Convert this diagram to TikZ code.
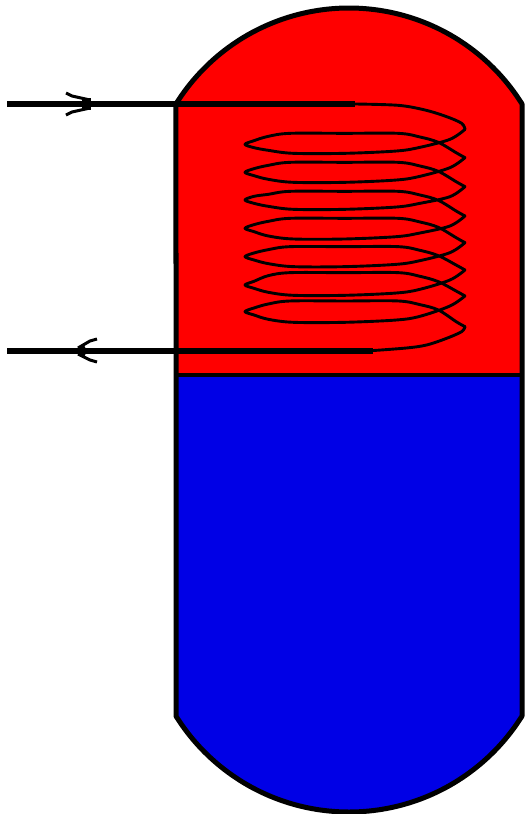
\documentclass[tikz,border=0pt]{standalone}
\definecolor{tankred}{RGB}{255,0,0}
\definecolor{tankblue}{RGB}{0,0,230}
\tikzset{
  shell/.style={draw=black,line width=5pt,line join=round},
  pipe/.style={draw=black,line width=5.5pt},
  coil/.style={draw=black,line width=2.9pt,line join=round,line cap=round},
  barb/.style={draw=black,line width=3pt,line join=round},
  zc/.style={shift={(230,90)},x=0.3333pt,y=-0.3333pt}
}
\begin{document}
\begin{tikzpicture}[x=1pt,y=-1pt]
\useasboundingbox (0,0) rectangle (525,814);
\fill[white] (0,0) rectangle (525,814);
% tank fill
\fill[tankred] plot[smooth,domain=-58:58,samples=41] ({349+204*sin(\x)},{212-204*cos(\x)}) -- (522,375) -- (176,375) -- cycle;
\fill[tankblue] (176,375) -- (522,375) -- (522,715) -- plot[smooth,domain=58:-58,samples=41] ({349+204*sin(\x)},{608+204*cos(\x)}) -- cycle;
% shell outline
\path[shell] plot[smooth,domain=-58:58,samples=41] ({349+204*sin(\x)},{212-204*cos(\x)}) -- (522,715) -- plot[smooth,domain=58:-58,samples=41] ({349+204*sin(\x)},{608+204*cos(\x)}) -- cycle;
\coordinate (divL) at (176,375);
\coordinate (divR) at (522,375);
\draw[draw=black,line width=4pt] (divL) -- (divR);
% coil: t = tip, T = top, B = bottom, b = bulge before, n = next bulge (zoom units)
\foreach \t/\T/\B/\b/\n in {163/130/190/118/203, 247/217/277/203/290, 330/304/358/290/378, 415/385/447/378/458, 500/470/530/458/540, 585/548/616/540/618, 665/633/697/618/710}{
  \draw[coil,zc] plot[smooth,tension=0.55] coordinates {
    (705,\b) (660,{\b+30}) (570,{\B-18}) (500,{\B-7}) (345,\B) (190,\B) (115,{\B-9}) (72,{\t+10}) (45,\t) (72,{\t-11}) (115,{\T+9}) (180,\T) (345,\T) (505,\T) (570,{\T+11}) (625,{\T+27}) (680,{\n-14}) (705,\n)};
}
% coil ends
\draw[coil,zc] plot[smooth,tension=0.55] coordinates {(375,42) (505,46) (585,60) (650,80) (695,100) (705,118)};
\draw[coil,zc] plot[smooth,tension=0.55] coordinates {(705,710) (695,725) (650,745) (590,765) (530,774) (425,782)};
% pipes
\coordinate (inA) at (7,104);
\coordinate (inB) at (355,104);
\coordinate (outA) at (373,351);
\coordinate (outB) at (7,351);
\path[pipe] (inA) -- (inB);
\path[pipe] (outA) -- (outB);
% arrowheads
\fill[black] (82,98) rectangle (91,110);
\path[barb] (66,93) -- (72,96) -- (90,100);
\path[barb] (66,115) -- (72,112) -- (90,108);
\fill[black] (74,351) -- (84,345) -- (87,351) -- (84,357) -- cycle;
\path[barb] (97,339) -- (90,341) -- (78,348);
\path[barb] (97,362) -- (90,360) -- (78,354);
\end{tikzpicture}
\end{document}
